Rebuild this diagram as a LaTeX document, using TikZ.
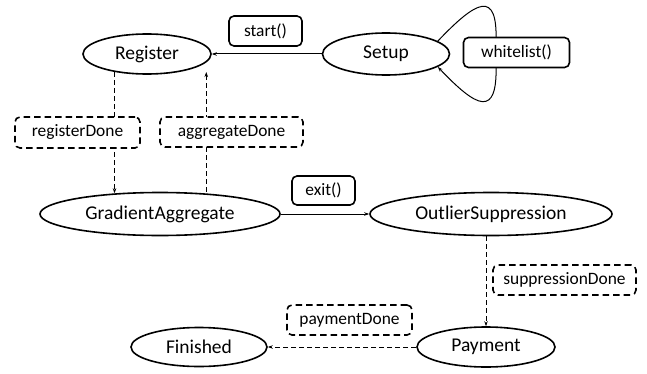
\documentclass[tikz,border=0pt]{standalone}
\usepackage{fontspec}
\setmainfont{Carlito}
\usetikzlibrary{shapes.geometric,arrows.meta}
\tikzset{
  x=1pt,y=1pt,
  state/.style={ellipse,draw,line width=1.6pt,inner sep=0pt,fill=white,font=\fontsize{19.5}{22}\selectfont},
  evt/.style={rectangle,rounded corners=5pt,draw,line width=1.6pt,inner sep=0pt,fill=white,font=\fontsize{17.4}{20}\selectfont},
  devt/.style={evt,dash pattern=on 6.5pt off 4pt},
  tr/.style={line width=1pt,-{Stealth[length=5pt,width=3.5pt]}},
  dtr/.style={tr,dash pattern=on 5pt off 3pt},
}
\begin{document}
\begin{tikzpicture}
\useasboundingbox (0,0) rectangle (647,373);
% states
\node[state,minimum width=128pt,minimum height=40pt] (register) at (147,319) {Register};
\node[state,minimum width=127pt,minimum height=42pt] (setup) at (386,319) {Setup};
\node[state,minimum width=240pt,minimum height=43pt] (ga) at (160,159) {GradientAggregate};
\node[state,minimum width=242pt,minimum height=43pt] (os) at (491,159) {OutlierSuppression};
\node[state,minimum width=136pt,minimum height=39pt] (finished) at (199,26) {Finished};
\node[state,minimum width=138pt,minimum height=40pt] (payment) at (486,26) {Payment};
% transitions
\draw[tr] (setup.west) -- (register.east);
\draw[tr] (setup.14) .. controls (476,372) and (498,385) .. (496,330) -- (496,310) .. controls (498,253) and (476,266) .. (setup.-14);
\draw[dtr] (register.209) -- (register.209 |- ga.155.6);
\draw[dtr] (ga.24.4 |- ga.north) -- (ga.24.4 |- register.-29);
\draw[tr] (ga.east) -- (os.west);
\draw[dtr] (payment.north |- os.south) -- (payment.north);
\draw[dtr] (payment.west) -- (finished.east);
% events
\node[evt,minimum width=73pt,minimum height=30pt] (start) at (265.5,342) {start()};
\node[evt,minimum width=106pt,minimum height=30pt] (whitelist) at (516.5,320.5) {whitelist()};
\node[devt,minimum width=125pt,minimum height=31pt] (rdone) at (77.5,240.5) {registerDone};
\node[devt,minimum width=143pt,minimum height=30pt] (adone) at (231.5,241) {aggregateDone};
\node[evt,minimum width=63pt,minimum height=29pt] (exit) at (323.5,182.5) {exit()};
\node[devt,minimum width=143pt,minimum height=30pt] (sdone) at (564.5,93) {suppressionDone};
\node[devt,minimum width=125pt,minimum height=30pt] (pdone) at (349.5,53) {paymentDone};
\end{tikzpicture}
\end{document}
